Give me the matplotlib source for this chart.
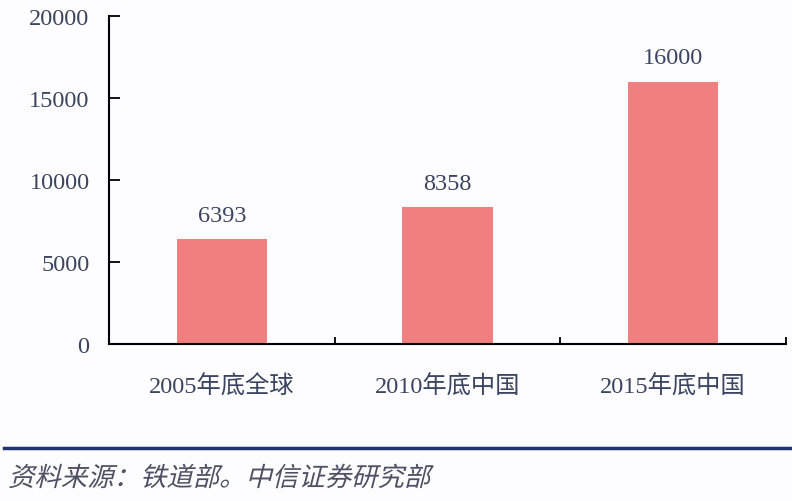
import matplotlib.pyplot as plt
from matplotlib.textpath import TextPath
from matplotlib.patches import PathPatch
from matplotlib.font_manager import FontProperties
from matplotlib.transforms import Affine2D, IdentityTransform

categories = ["2005年底全球", "2010年底中国", "2015年底中国"]
values = [6393, 8358, 16000]
yticks = [0, 5000, 10000, 15000, 20000]
source = "资料来源：铁道部。中信证券研究部"

plt.rcParams['font.family'] = ['Liberation Serif', 'Noto Sans CJK SC']
txt_color = "#3b4560"

fig = plt.figure(figsize=(7.92, 5.02), dpi=100, facecolor="#fdfcfe")
ax = fig.add_axes([109/792, 1-345/502, (786-109)/792, (345-17)/502])
ax.set_facecolor("#fdfcfe")

x = range(len(categories))
ax.bar(x, values, width=0.4, color="#f27f80")
for i, v in enumerate(values):
    ax.text(i, v + 800, str(v), ha="center", va="bottom", fontsize=17.5, color=txt_color)

ax.set_xlim(-0.5, 2.5)
ax.set_ylim(0, 20000)
ax.set_yticks(yticks)
ax.set_yticklabels([str(t) for t in yticks], fontsize=17.5, color=txt_color)
ax.set_xticks([0.5, 1.5, 2.5], minor=False)
ax.set_xticklabels([])
ax.set_xticks(list(x), minor=True)
ax.set_xticklabels(categories, minor=True, fontsize=17.5, color=txt_color)
ax.tick_params(axis="x", which="minor", length=0, pad=22)
ax.tick_params(axis="x", which="major", direction="in", length=5, width=1.3)
ax.tick_params(axis="y", direction="in", length=8, width=1.3, pad=14)

for s in ["top", "right"]:
    ax.spines[s].set_visible(False)
for s in ["left", "bottom"]:
    ax.spines[s].set_linewidth(1.5)

fig.add_artist(plt.Line2D([4/792, 790/792], [1-449/502, 1-449/502], color="#1f3470", linewidth=2.5))

# italic source note: CJK font has no italic, so slant the glyph outlines
tp = TextPath((0, 0), source, size=19, prop=FontProperties(family='Noto Sans CJK SC'))
tr = Affine2D().skew_deg(14, 0).scale(100/72).translate(8, 502-487)
fig.add_artist(PathPatch(tp, transform=tr + IdentityTransform(), color="#505064", lw=0))

fig.savefig("out.png", dpi=100, facecolor=fig.get_facecolor())
